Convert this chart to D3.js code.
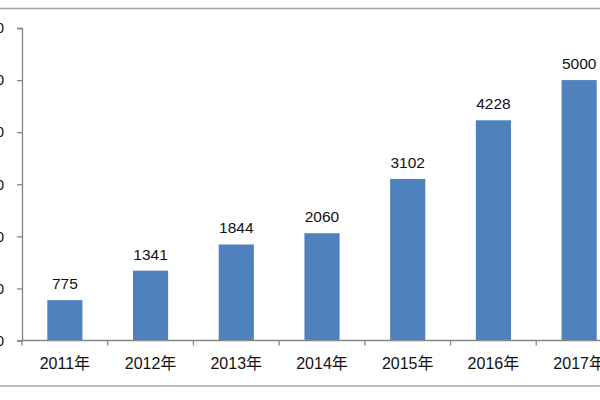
<!DOCTYPE html>
<html><head><meta charset="utf-8">
<script src="https://cdn.jsdelivr.net/npm/d3@7/dist/d3.min.js"></script>
<style>body{margin:0;background:#fff}svg{display:block}</style>
</head><body><svg id="c" width="600" height="400"></svg>
<script>
const categories = ["2011年","2012年","2013年","2014年","2015年","2016年","2017年"];
const values = [775, 1341, 1844, 2060, 3102, 4228, 5000];
const yTicks = [0, 1000, 2000, 3000, 4000, 5000, 6000];

const svg = d3.select("#c");
const font = "'Liberation Sans','Noto Sans CJK SC',sans-serif";
const axisColor = "#868686";

// frame lines
svg.append("line").attr("x1",0).attr("x2",600).attr("y1",8.5).attr("y2",8.5).attr("stroke","#a6a6a6").attr("stroke-width",1.5);
svg.append("line").attr("x1",0).attr("x2",600).attr("y1",386).attr("y2",386).attr("stroke","#a6a6a6").attr("stroke-width",1.5);

const x = d3.scaleBand().domain(categories).range([22, 622]).paddingInner(0.59).paddingOuter(0.295);
const xTickScale = d3.scaleBand().domain(categories).range([22, 622]);
const y = d3.scaleLinear().domain([0, 6000]).range([340.5, 28]);

// y axis
const yAxis = svg.append("g").attr("transform","translate(22,0)")
  .call(d3.axisLeft(y).tickValues(yTicks).tickSize(5).tickPadding(13).tickFormat(d3.format("d")));
yAxis.selectAll("path,line").attr("stroke",axisColor).attr("stroke-width",1.3);
yAxis.selectAll("text").attr("font-family",font).attr("font-size",15).attr("fill","#111");

// bars
svg.selectAll("rect.bar").data(values).join("rect").attr("class","bar")
  .attr("x",(d,i)=>x(categories[i])).attr("width",x.bandwidth())
  .attr("y",d=>y(d)).attr("height",d=>y(0)-y(d)).attr("fill","#4F81BD");

// value labels
svg.selectAll("text.val").data(values).join("text").attr("class","val")
  .attr("x",(d,i)=>x(categories[i])+x.bandwidth()/2).attr("y",d=>y(d)-11)
  .attr("text-anchor","middle").attr("font-family",font).attr("font-size",15.5).attr("fill","#111")
  .text(d=>d);

// x axis
const xAxisG = svg.append("g").attr("transform",`translate(0,${y(0)})`);
xAxisG.append("line").attr("x1",22).attr("x2",622).attr("stroke",axisColor).attr("stroke-width",1.3);
xAxisG.selectAll("line.tk").data(categories).join("line").attr("class","tk")
  .attr("x1",d=>xTickScale(d)).attr("x2",d=>xTickScale(d)).attr("y1",0).attr("y2",5)
  .attr("stroke",axisColor).attr("stroke-width",1.3);
xAxisG.selectAll("text").data(categories).join("text")
  .attr("x",d=>xTickScale(d)+xTickScale.bandwidth()/2).attr("y",28)
  .attr("text-anchor","middle").attr("font-family",font).attr("font-size",16).attr("fill","#111")
  .text(d=>d);
</script></body></html>
